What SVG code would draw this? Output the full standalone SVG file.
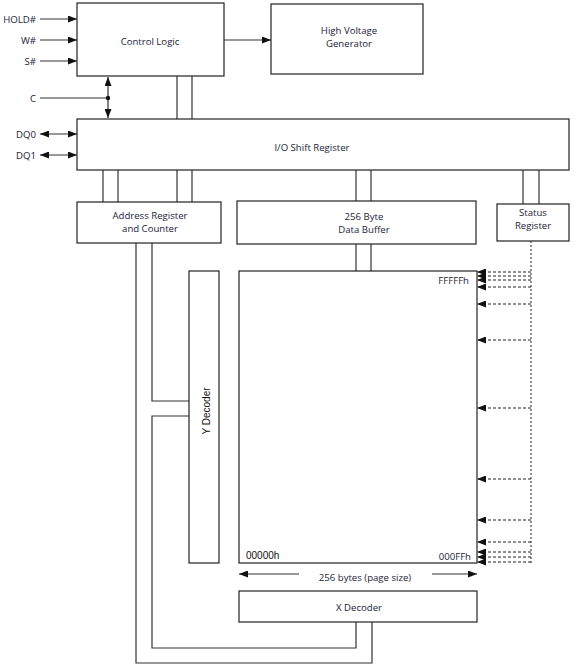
<svg xmlns="http://www.w3.org/2000/svg" width="574" height="668" viewBox="0 0 574 668">
<style>
.box{fill:#fff;stroke:#222;stroke-width:1.2}
.ln{fill:none;stroke:#333;stroke-width:1.2}
.dash{fill:none;stroke:#222;stroke-width:1;stroke-dasharray:3 2}
.dot{fill:none;stroke:#222;stroke-width:1;stroke-dasharray:2 2}
.t{font-family:"Open Sans","Noto Sans",sans-serif;font-size:9.6px;fill:#1c1c38;text-anchor:middle}
.tr{font-family:"Open Sans","Noto Sans",sans-serif;font-size:9.6px;fill:#1c1c38;text-anchor:end}
.ta{font-family:"Liberation Sans",Arial,sans-serif;font-size:10px;fill:#111}
</style>
<defs>
<marker id="ah" viewBox="0 0 9 7" refX="9" refY="3.5" markerWidth="9" markerHeight="7" markerUnits="userSpaceOnUse" orient="auto-start-reverse">
<path d="M0,0 L9,3.5 L0,7 z" fill="#111"/>
</marker>
</defs>
<rect width="574" height="668" fill="#fff"/>

<g id="connectors">
<line class="ln" x1="40" y1="19" x2="77" y2="19" marker-end="url(#ah)"/>
<line class="ln" x1="40" y1="40" x2="77" y2="40" marker-end="url(#ah)"/>
<line class="ln" x1="40" y1="61" x2="77" y2="61" marker-end="url(#ah)"/>
<line class="ln" x1="224" y1="40" x2="271" y2="40" marker-end="url(#ah)"/>
<line class="ln" x1="40" y1="98" x2="108" y2="98"/>
<line class="ln" x1="108" y1="77" x2="108" y2="118" marker-start="url(#ah)" marker-end="url(#ah)"/>
<circle cx="108" cy="98" r="2.2" fill="#111"/>
<line class="ln" x1="40" y1="134" x2="77" y2="134" marker-start="url(#ah)" marker-end="url(#ah)"/>
<line class="ln" x1="40" y1="155" x2="77" y2="155" marker-start="url(#ah)" marker-end="url(#ah)"/>
<line class="ln" x1="177" y1="76" x2="177" y2="119"/>
<line class="ln" x1="192" y1="76" x2="192" y2="119"/>
<line class="ln" x1="103" y1="170" x2="103" y2="202"/>
<line class="ln" x1="118" y1="170" x2="118" y2="202"/>
<line class="ln" x1="177" y1="170" x2="177" y2="202"/>
<line class="ln" x1="192" y1="170" x2="192" y2="202"/>
<line class="ln" x1="356" y1="170" x2="356" y2="201"/>
<line class="ln" x1="371" y1="170" x2="371" y2="201"/>
<line class="ln" x1="356" y1="244" x2="356" y2="271"/>
<line class="ln" x1="371" y1="244" x2="371" y2="271"/>
<line class="ln" x1="523" y1="170" x2="523" y2="204"/>
<line class="ln" x1="539" y1="170" x2="539" y2="204"/>
<polyline class="ln" points="152,243 152,401 189,401"/>
<polyline class="ln" points="189,416 152,416 152,648 356,648 356,622"/>
<polyline class="ln" points="136,243 136,663 372,663 372,622"/>
<line class="ln" x1="299" y1="574" x2="239" y2="574" marker-end="url(#ah)"/>
<line class="ln" x1="432" y1="574" x2="477" y2="574" marker-end="url(#ah)"/>
<line class="dot" x1="531" y1="241" x2="531" y2="563"/>
<line class="dash" x1="531" y1="272" x2="477" y2="272" marker-end="url(#ah)"/>
<line class="dash" x1="531" y1="276" x2="477" y2="276" marker-end="url(#ah)"/>
<line class="dash" x1="531" y1="280" x2="477" y2="280" marker-end="url(#ah)"/>
<line class="dash" x1="531" y1="287" x2="477" y2="287" marker-end="url(#ah)"/>
<line class="dash" x1="531" y1="304" x2="477" y2="304" marker-end="url(#ah)"/>
<line class="dash" x1="531" y1="340" x2="477" y2="340" marker-end="url(#ah)"/>
<line class="dash" x1="531" y1="408" x2="477" y2="408" marker-end="url(#ah)"/>
<line class="dash" x1="531" y1="479" x2="477" y2="479" marker-end="url(#ah)"/>
<line class="dash" x1="531" y1="520" x2="477" y2="520" marker-end="url(#ah)"/>
<line class="dash" x1="531" y1="542" x2="477" y2="542" marker-end="url(#ah)"/>
<line class="dash" x1="531" y1="552" x2="477" y2="552" marker-end="url(#ah)"/>
<line class="dash" x1="531" y1="557" x2="477" y2="557" marker-end="url(#ah)"/>
<line class="dash" x1="531" y1="562" x2="477" y2="562" marker-end="url(#ah)"/>
</g>

<g id="labels-pins">
<text class="tr" x="36" y="22.5">HOLD#</text>
<text class="tr" x="36" y="43.5">W#</text>
<text class="tr" x="36" y="64.5">S#</text>
<text class="tr" x="36" y="101.5">C</text>
<text class="tr" x="36" y="137.5">DQ0</text>
<text class="tr" x="36" y="158.5">DQ1</text>
</g>

<g id="control-logic">
<rect class="box" x="77" y="3" width="147" height="73"/>
<text class="t" x="150" y="45">Control Logic</text>
</g>
<g id="hv-generator">
<rect class="box" x="271" y="4" width="152" height="70"/>
<text class="t" x="349" y="34">High Voltage</text>
<text class="t" x="349" y="47">Generator</text>
</g>
<g id="io-shift-register">
<rect class="box" x="77" y="119" width="492" height="51"/>
<text class="t" x="312" y="150.5">I/O Shift Register</text>
</g>
<g id="address-register">
<rect class="box" x="77" y="202" width="144" height="41"/>
<text class="t" x="150" y="219">Address Register</text>
<text class="t" x="150" y="232">and Counter</text>
</g>
<g id="data-buffer">
<rect class="box" x="237" y="201" width="239" height="43"/>
<text class="t" x="364" y="220">256 Byte</text>
<text class="t" x="364" y="233">Data Buffer</text>
</g>
<g id="status-register">
<rect class="box" x="497" y="204" width="72" height="37"/>
<text class="t" x="533" y="216">Status</text>
<text class="t" x="533" y="229">Register</text>
</g>
<g id="y-decoder">
<rect class="box" x="189" y="271" width="30" height="292"/>
<text class="ta" x="0" y="0" text-anchor="middle" transform="translate(209.5,411) rotate(-90)">Y Decoder</text>
</g>
<g id="memory-array">
<rect class="box" x="239" y="271" width="238" height="292"/>
<text class="tr" x="469" y="283.5">FFFFFh</text>
<text class="ta" x="246" y="559">00000h</text>
<text class="tr" x="471" y="559.5">000FFh</text>
</g>
<g id="page-size">
<text class="t" x="365" y="580.5">256 bytes (page size)</text>
</g>
<g id="x-decoder">
<rect class="box" x="239" y="591" width="238" height="31"/>
<text class="t" x="359" y="610.5">X Decoder</text>
</g>
</svg>
